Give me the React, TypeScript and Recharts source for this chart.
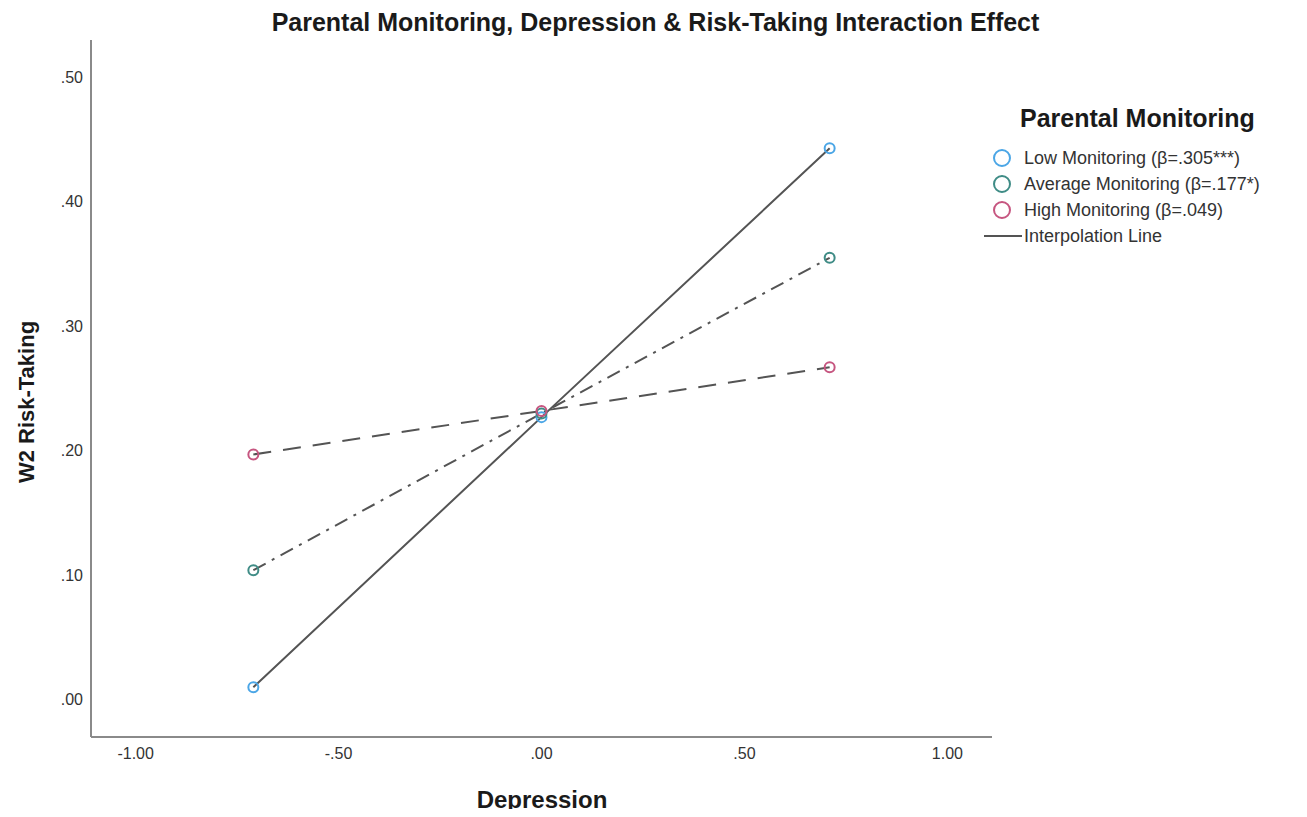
import React from "react";
import { LineChart, Line, XAxis, YAxis } from "recharts";

const depression = [-0.71, 0, 0.71];
const lowMonitoring = [0.01, 0.227, 0.443];
const avgMonitoring = [0.104, 0.23, 0.355];
const highMonitoring = [0.197, 0.232, 0.267];
const xTicks = [-1, -0.5, 0, 0.5, 1];
const yTicks = [0, 0.1, 0.2, 0.3, 0.4, 0.5];

const legendItems = [
  { label: "Low Monitoring (β=.305***)", color: "#4ba6e6" },
  { label: "Average Monitoring (β=.177*)", color: "#3f8c86" },
  { label: "High Monitoring (β=.049)", color: "#c65680" },
];

const data = depression.map((x, i) => ({
  x,
  low: lowMonitoring[i],
  avg: avgMonitoring[i],
  high: highMonitoring[i],
}));

const fmt = (v: number) => v.toFixed(2).replace(/^(-?)0\./, "$1.");

const font = "'Liberation Sans', Arial, sans-serif";
const lineColor = "#545454";

const dot = (color: string) => ({
  r: 5,
  stroke: color,
  strokeWidth: 2,
  fill: "none",
  strokeDasharray: "none",
});

export default function App() {
  return (
    <div style={{ position: "relative", width: 1291, height: 801, fontFamily: font, background: "#fff" }}>
      <div
        style={{
          position: "absolute",
          top: 0,
          left: 0,
          width: 1291,
          textAlign: "center",
          fontSize: 25,
          fontWeight: "bold",
          color: "#1a1a1a",
          paddingLeft: 2,
        }}
      >
        Parental Monitoring, Depression &amp; Risk-Taking Interaction Effect
      </div>
      <LineChart width={1291} height={801} data={data} margin={{ top: 32, right: 307, bottom: 32, left: 0 }}>
        <XAxis
          dataKey="x"
          type="number"
          domain={[-1.11, 1.11]}
          ticks={xTicks}
          tickFormatter={fmt}
          tickLine={false}
          axisLine={{ stroke: "#8a8a8a", strokeWidth: 2 }}
          tick={{ fill: "#333", fontSize: 16, fontFamily: font }}
          tickMargin={5}
          height={40}
          interval={0}
        />
        <YAxis
          type="number"
          domain={[-0.03, 0.53]}
          ticks={yTicks}
          tickFormatter={fmt}
          tickLine={false}
          axisLine={{ stroke: "#8a8a8a", strokeWidth: 2 }}
          tick={{ fill: "#333", fontSize: 16, fontFamily: font }}
          tickMargin={2}
          width={83}
          interval={0}
        />
        <Line
          dataKey="low"
          stroke={lineColor}
          strokeWidth={2}
          dot={dot("#4ba6e6")}
          activeDot={false}
          isAnimationActive={false}
        />
        <Line
          dataKey="avg"
          stroke={lineColor}
          strokeWidth={2}
          strokeDasharray="14 7 3 7"
          dot={dot("#3f8c86")}
          activeDot={false}
          isAnimationActive={false}
        />
        <Line
          dataKey="high"
          stroke={lineColor}
          strokeWidth={2}
          strokeDasharray="18 12"
          dot={dot("#c65680")}
          activeDot={false}
          isAnimationActive={false}
        />
      </LineChart>
      <div
        style={{
          position: "absolute",
          left: 8,
          top: 394,
          transform: "translate(-50%, -50%) rotate(-90deg)",
          marginLeft: 11,
          fontSize: 22,
          fontWeight: "bold",
          color: "#1a1a1a",
          whiteSpace: "nowrap",
        }}
      >
        W2 Risk-Taking
      </div>
      <div
        style={{
          position: "absolute",
          left: 534,
          top: 778,
          transform: "translateX(-50%)",
          fontSize: 24,
          fontWeight: "bold",
          color: "#1a1a1a",
        }}
      >
        Depression
      </div>
      <div style={{ position: "absolute", left: 976, top: 96, color: "#333" }}>
        <div style={{ fontSize: 25, fontWeight: "bold", color: "#1a1a1a", marginLeft: 36, marginBottom: 12 }}>
          Parental Monitoring
        </div>
        {legendItems.map((it) => (
          <div key={it.label} style={{ display: "flex", alignItems: "center", height: 26, fontSize: 18 }}>
            <svg width={40} height={22}>
              <circle cx={18} cy={11} r={8} fill="none" stroke={it.color} strokeWidth={2} />
            </svg>
            <span>{it.label}</span>
          </div>
        ))}
        <div style={{ display: "flex", alignItems: "center", height: 26, fontSize: 18 }}>
          <svg width={40} height={22}>
            <line x1={0} y1={11} x2={38} y2={11} stroke={lineColor} strokeWidth={2} />
          </svg>
          <span>Interpolation Line</span>
        </div>
      </div>
    </div>
  );
}
